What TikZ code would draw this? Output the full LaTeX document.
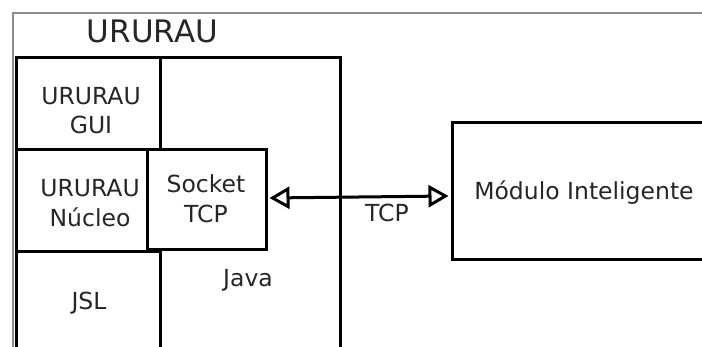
\documentclass[tikz,border=0pt]{standalone}
\usepackage{fontspec}
\setmainfont{DejaVu Sans}
\usetikzlibrary{arrows.meta,calc}
\begin{document}
\begin{tikzpicture}[x=1pt,y=-1pt,
  box/.style={draw=black, line width=3pt, inner sep=0pt, outer sep=0pt, anchor=north west},
  lbl/.style={inner sep=0pt, text=black!85, font=\fontsize{23.5}{29.4}\selectfont, align=center},
  link/.style={line width=3pt, {Triangle[open,length=20pt,width=22pt]}-{Triangle[open,length=20pt,width=22pt]}}]
\useasboundingbox (0,0) rectangle (702,347);
\clip (0,0) rectangle (702,347);
\fill[white] (0,0) rectangle (702,347);
% thin outer frame of the system
\draw[black!45, line width=1.2pt] (13,400) |- (740,13);
\node[lbl, font=\fontsize{31}{36}\selectfont, anchor=base] (title) at (152.5,43) {URURAU};
% layered blocks
\node[box, minimum width=324pt, minimum height=340pt] (java) at (16,58) {};
\node[box, minimum width=144pt, minimum height=92pt] (gui) at (16,58) {};
\node[box, minimum width=144pt, minimum height=140pt] (jsl) at (16,252) {};
\node[box, minimum width=131pt, minimum height=102pt] (nucleo) at (16,150) {};
\node[box, minimum width=119pt, minimum height=100pt] (socket) at (147,150) {};
\node[box, minimum width=320pt, minimum height=137pt] (modulo) at (452,123) {};
% block labels
\node[lbl] (guiLbl) at (91,110.5) {URURAU\\GUI};
\node[lbl] (nucleoLbl) at (90,203.3) {URURAU\\Núcleo};
\node[lbl] (socketLbl) at (206,198.7) {Socket\\TCP};
\node[lbl, anchor=base] (javaLbl) at (248,287) {Java};
\node[lbl, anchor=base] (jslLbl) at (89,310) {JSL};
\node[lbl, anchor=base] (moduloLbl) at (584,200) {Módulo Inteligente};
% TCP connection
\draw[link] ($(socket.east)+(3.5,-2)$) -- ($(modulo.west)+(-3.5,4.5)$);
\node[lbl, anchor=base] (tcpLbl) at (387,221.5) {TCP};
\end{tikzpicture}
\end{document}
